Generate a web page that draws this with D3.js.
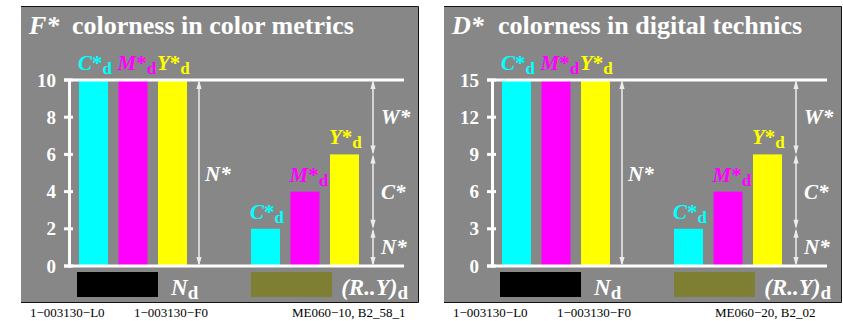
<!DOCTYPE html>
<html><head><meta charset="utf-8">
<script src="https://cdn.jsdelivr.net/npm/d3@7"></script>
<style>html,body{margin:0;padding:0;background:#fff;}svg{display:block;}</style>
</head><body>
<script>
// ---- data ----
const colorants = ["C", "M", "Y"];
const colorantColors = ["#00ffff", "#ff00ff", "#ffff00"];
const groups = ["N", "RY"];
const fMax = 10;
const fGroupN = [10, 10, 10];
const fGroupRY = [2, 4, 6];
const fTicks = [0, 2, 4, 6, 8, 10];
const dMax = 15;
const dGroupN = [15, 15, 15];
const dGroupRY = [3, 6, 9];
const dTicks = [0, 3, 6, 9, 12, 15];
const titleLetters = ["F*", "D*"];
const titleTexts = ["colorness in color metrics", "colorness in digital technics"];
const footLeft = ["1\u2212003130\u2212L0", "1\u2212003130\u2212L0"];
const footMid = ["1\u2212003130\u2212F0", "1\u2212003130\u2212F0"];
const footRight = ["ME060\u221210, B2_58_1", "ME060\u221220, B2_02"];
const swatchColors = ["#000000", "#7f7f33"];

const panels = [
  {max: fMax, vals: [fGroupN, fGroupRY], ticks: fTicks},
  {max: dMax, vals: [dGroupN, dGroupRY], ticks: dTicks}
];

const W = 843, H = 321;
const svg = d3.select("body").append("svg").attr("width", W).attr("height", H);
const serif = "'Liberation Serif','Times New Roman',serif";
const gray = "#878787";
const arrowCol = "#ececec";

function subLabel(g, x, y, main, color, size, subSize, anchor) {
  const t = g.append("text").attr("x", x).attr("y", y)
    .attr("font-family", serif).attr("font-weight", "bold")
    .attr("font-size", size).attr("fill", color)
    .attr("text-anchor", anchor || "start");
  t.append("tspan").attr("font-style", "italic").text(main);
  t.append("tspan").attr("font-size", subSize).attr("dy", 4).text("d");
  return t;
}

function arrow(g, x, y1, y2) {
  // y1 top, y2 bottom; arrowheads at both ends
  g.append("line").attr("x1", x).attr("x2", x).attr("y1", y1 + 2).attr("y2", y2 - 2)
    .attr("stroke", arrowCol).attr("stroke-width", 1.5);
  const hw = 2.6, hl = 9;
  g.append("path").attr("d", `M${x},${y1}L${x - hw},${y1 + hl}L${x + hw},${y1 + hl}Z`).attr("fill", arrowCol);
  g.append("path").attr("d", `M${x},${y2}L${x - hw},${y2 - hl}L${x + hw},${y2 - hl}Z`).attr("fill", arrowCol);
}

panels.forEach((p, i) => {
  const ox = i * 423;
  const g = svg.append("g").attr("transform", `translate(${ox},0)`);
  // background panel
  g.append("rect").attr("x", 21).attr("y", 6).attr("width", 397).attr("height", 297).attr("fill", gray);
  g.append("path").attr("d", "M21,6.5H418.5V302.5H21").attr("fill", "none").attr("stroke", "#111").attr("stroke-width", 1);

  // title
  g.append("text").attr("x", 29).attr("y", 34).attr("font-family", serif)
    .attr("font-weight", "bold").attr("font-style", "italic").attr("font-size", 26)
    .attr("fill", "#fff").text(titleLetters[i]);
  g.append("text").attr("x", 72 + (i ? 3 : 0)).attr("y", 34).attr("font-family", serif)
    .attr("font-weight", "bold").attr("font-size", 26)
    .attr("fill", "#fff").text(titleTexts[i]);

  const y = d3.scaleLinear().domain([0, p.max]).range([266, 80]);
  const xg = d3.scaleBand().domain(groups).range([79, 79 + 172 * 2]);
  const xc = d3.scaleBand().domain(colorants).range([0, 108]).paddingInner(0.266).paddingOuter(0);

  // bars
  groups.forEach((grp, gi) => {
    const vals = p.vals[gi];
    colorants.forEach((c, ci) => {
      const bx = xg(grp) + xc(c);
      g.append("rect").attr("x", bx).attr("y", y(vals[ci]))
        .attr("width", xc.bandwidth()).attr("height", y(0) - y(vals[ci]))
        .attr("fill", colorantColors[ci]);
      const t = g.append("text").attr("x", bx - 1).attr("y", y(vals[ci]) - 10)
        .attr("font-family", serif).attr("font-weight", "bold")
        .attr("font-size", 21).attr("fill", colorantColors[ci]);
      t.append("tspan").attr("font-style", "italic").text(c);
      t.append("tspan").text("*");
      t.append("tspan").attr("font-size", 17).attr("dy", 4).text("d");
    });
  });

  // axis lines
  g.append("line").attr("x1", 64).attr("x2", 404).attr("y1", y(p.max)).attr("y2", y(p.max))
    .attr("stroke", "#fff").attr("stroke-width", 3);
  g.append("line").attr("x1", 64).attr("x2", 404).attr("y1", y(0)).attr("y2", y(0))
    .attr("stroke", "#fff").attr("stroke-width", 3);
  g.append("line").attr("x1", 69.5).attr("x2", 69.5).attr("y1", y(p.max)).attr("y2", y(0) + 1.5)
    .attr("stroke", "#fff").attr("stroke-width", 3);
  p.ticks.forEach(t => {
    g.append("line").attr("x1", 64).attr("x2", 73).attr("y1", y(t)).attr("y2", y(t))
      .attr("stroke", "#fff").attr("stroke-width", 3);
    g.append("text").attr("x", 56).attr("y", y(t)).attr("dy", "0.35em")
      .attr("text-anchor", "end").attr("font-family", serif).attr("font-weight", "bold")
      .attr("font-size", 19).attr("fill", "#fff").text(t);
  });

  // arrows
  const ax1 = 199, ax2 = 373;
  arrow(g, ax1, y(p.max), y(0));
  g.append("text").attr("x", 205).attr("y", (y(p.max) + y(0)) / 2 + 8)
    .attr("font-family", serif).attr("font-weight", "bold").attr("font-style", "italic")
    .attr("font-size", 21).attr("fill", "#fff").text("N*");
  const ry = p.vals[1];
  const vmax = d3.max(ry), vmin = d3.min(ry);
  const segs = [[p.max, vmax, "W*"], [vmax, vmin, "C*"], [vmin, 0, "N*"]];
  segs.forEach(s => {
    arrow(g, ax2, y(s[0]), y(s[1]));
    g.append("text").attr("x", 381).attr("y", (y(s[0]) + y(s[1])) / 2 + 7)
      .attr("font-family", serif).attr("font-weight", "bold").attr("font-style", "italic")
      .attr("font-size", 21).attr("fill", "#fff").text(s[2]);
  });

  // swatches
  g.append("rect").attr("x", 77).attr("y", 272).attr("width", 81).attr("height", 25).attr("fill", swatchColors[0]);
  g.append("rect").attr("x", 251).attr("y", 272).attr("width", 81).attr("height", 25).attr("fill", swatchColors[1]);
  subLabel(g, 171, 295, "N", "#fff", 23, 19);
  subLabel(g, 408, 295, "(R..Y)", "#fff", 23, 19, "end");

  // footer
  const ft = (x, txt, anchor) => g.append("text").attr("x", x).attr("y", 317)
    .attr("font-family", serif).attr("font-size", 13).attr("fill", "#000")
    .attr("text-anchor", anchor || "start").text(txt);
  ft(30, footLeft[i]);
  ft(134, footMid[i]);
  ft(292, footRight[i]);
});
</script>
</body></html>
